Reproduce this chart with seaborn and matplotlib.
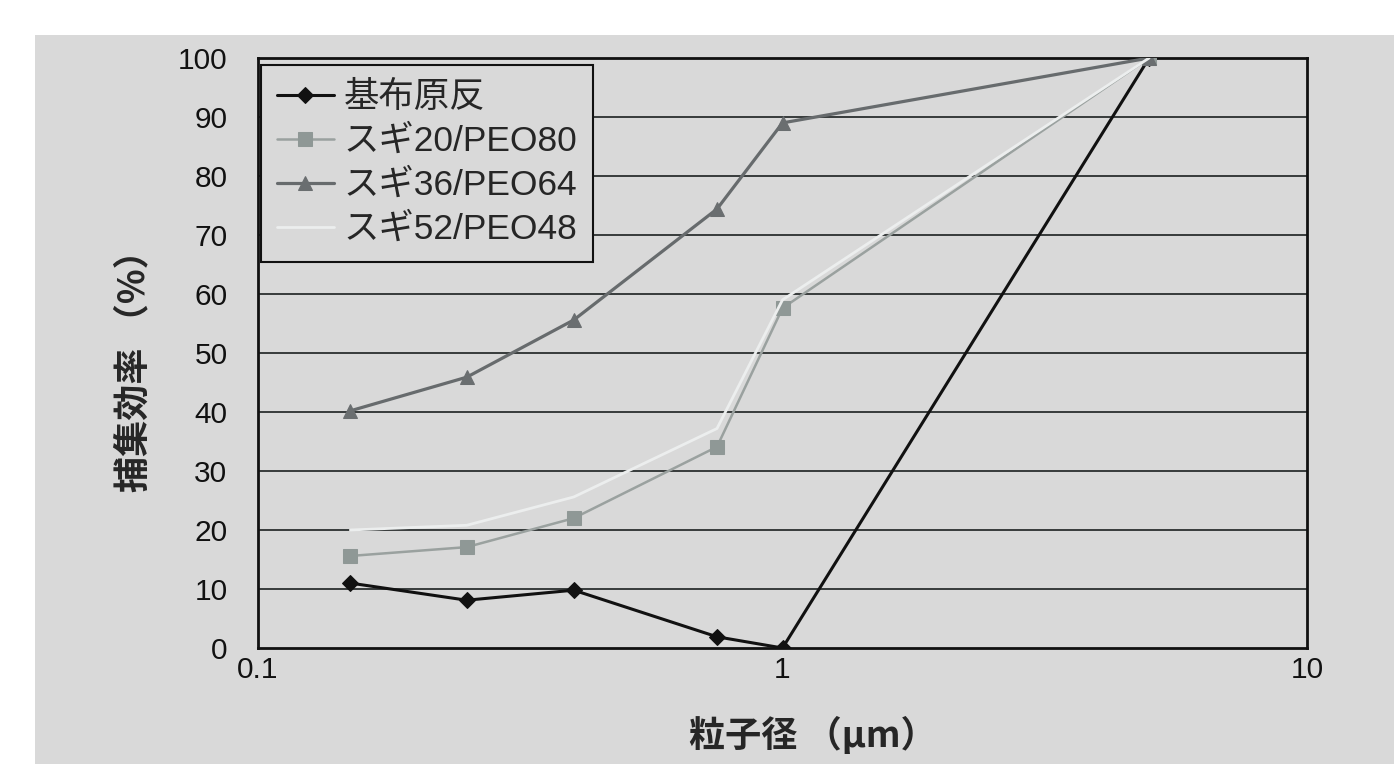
import matplotlib
matplotlib.use("Agg")
import matplotlib.pyplot as plt
from matplotlib.patches import Rectangle
from matplotlib.ticker import FixedLocator, LogLocator, NullFormatter, FixedFormatter
import seaborn as sns
import pandas as pd

# particle diameter (µm) and collection efficiency (%) for each filter
particle_size = [0.15, 0.25, 0.4, 0.75, 1.0, 5.0]
base_fabric = [11.0, 8.1, 9.8, 1.9, 0.0, 100.0]
sugi20_peo80 = [15.6, 17.1, 22.0, 34.1, 57.6, 100.0]
sugi36_peo64 = [40.2, 45.9, 55.6, 74.4, 89.0, 100.0]
sugi52_peo48 = [20.0, 20.8, 25.6, 37.2, 59.0, 100.0]

series_names = ["基布原反", "スギ20/PEO80", "スギ36/PEO64", "スギ52/PEO48"]
series_values = [base_fabric, sugi20_peo80, sugi36_peo64, sugi52_peo48]

y_ticks = [0, 10, 20, 30, 40, 50, 60, 70, 80, 90, 100]
x_ticks = [0.1, 1, 10]
x_tick_labels = ["0.1", "1", "10"]

frames = []
for name, vals in zip(series_names, series_values):
    frames.append(pd.DataFrame({"size": particle_size, "eff": vals, "filter": name}))
df = pd.concat(frames, ignore_index=True)

sns.set_style("white")
plt.rcParams["font.family"] = ["Liberation Sans", "Noto Sans CJK JP", "DejaVu Sans"]

BG = "#d9d9d9"
W, H = 1394, 764
fig = plt.figure(figsize=(W / 100, H / 100), dpi=100, facecolor="white")
fig.patches.append(Rectangle((35 / W, 0), 1 - 35 / W, (H - 35) / H,
                             transform=fig.transFigure, facecolor=BG,
                             edgecolor="none", zorder=-10))

ax = fig.add_axes([258 / W, (H - 648) / H, (1307 - 258) / W, (648 - 58) / H])
ax.set_facecolor(BG)

styles = {
    "基布原反": dict(color="#111111", marker="D", markersize=8, linewidth=2.2,
                 markerfacecolor="#111111", markeredgecolor="#111111"),
    "スギ20/PEO80": dict(color="#9aa19f", marker="s", markersize=10, linewidth=1.8,
                       markerfacecolor="#8f9896", markeredgecolor="#8f9896"),
    "スギ36/PEO64": dict(color="#676b6d", marker="^", markersize=10, linewidth=2.3,
                       markerfacecolor="#6a6e70", markeredgecolor="#6a6e70"),
    "スギ52/PEO48": dict(color="#eceeee", marker=None, linewidth=2.0),
}

for name in series_names:
    sub = df[df["filter"] == name]
    st = styles[name]
    kw = dict(color=st["color"], linewidth=st["linewidth"], label=name)
    if st.get("marker"):
        kw.update(marker=st["marker"], markersize=st["markersize"],
                  markerfacecolor=st["markerfacecolor"],
                  markeredgecolor=st["markeredgecolor"])
    sns.lineplot(data=sub, x="size", y="eff", ax=ax, zorder=3, **kw)

ax.set_xscale("log")
ax.set_xlim(0.1, 10)
ax.set_ylim(0, 100)

ax.xaxis.set_major_locator(FixedLocator(x_ticks))
ax.xaxis.set_major_formatter(FixedFormatter(x_tick_labels))
ax.xaxis.set_minor_locator(LogLocator(base=10, subs=range(2, 10)))
ax.xaxis.set_minor_formatter(NullFormatter())
ax.set_yticks(y_ticks)

ax.grid(False)
for y in y_ticks[1:-1]:
    ax.axhline(y, color="#2b2f2f", linewidth=1.3, zorder=1)

for sp in ax.spines.values():
    sp.set_color("#111111")
    sp.set_linewidth(2.0)
    sp.set_visible(True)

ax.tick_params(axis="x", which="both", direction="in", labelsize=21.5, pad=6,
               colors="#222222", labelcolor="#111111")
ax.tick_params(axis="x", which="major", length=0)
ax.tick_params(axis="x", which="minor", length=5, width=1.2)
ax.tick_params(axis="y", which="major", direction="in", length=5, width=1.2,
               labelsize=21.5, pad=22, labelcolor="#111111")

label_font = ["Noto Sans CJK JP", "DejaVu Sans"]
ax.set_xlabel("粒子径 （μm）", fontsize=26, fontweight="bold",
              family=label_font, va="center")
ax.xaxis.set_label_coords(0.529, (648 - 736) / 590)
ax.set_ylabel("捕集効率 （%）", fontsize=26, fontweight="bold",
              family=label_font, va="center")
ax.yaxis.set_label_coords((134 - 258) / 1049, (648 - 362) / 590)

leg = ax.legend(loc="upper left", bbox_to_anchor=(0.003, 0.988), fontsize=25.5,
                frameon=True, fancybox=False, facecolor=BG, framealpha=1,
                edgecolor="#111111", handlelength=1.6, handletextpad=0.28,
                labelspacing=0.31, borderpad=0.45, borderaxespad=0.0)
leg.get_frame().set_linewidth(1.5)
leg.set_zorder(5)

fig.savefig("out.png", dpi=100, facecolor="white")
